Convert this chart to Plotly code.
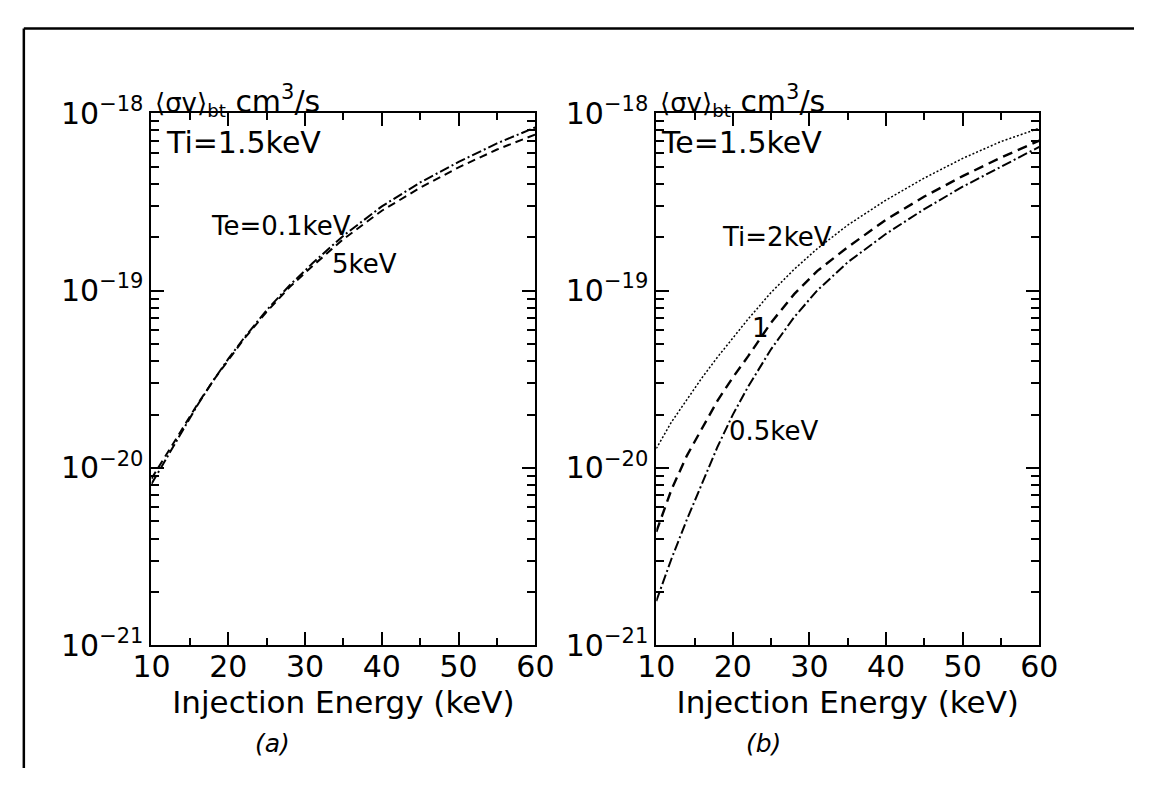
import plotly.graph_objects as go

# ---------------- data ----------------
energy = [10, 12, 14, 16, 18, 20, 22, 25, 28, 31, 35, 40, 45, 50, 55, 60]  # keV

# panel (a): Ti = 1.5 keV
a_te01 = [8.13e-21, 1.148e-20, 1.622e-20, 2.265e-20, 3.09e-20, 4.12e-20, 5.37e-20, 7.76e-20,
          1.072e-19, 1.429e-19, 2.04e-19, 2.985e-19, 4.07e-19, 5.31e-19, 6.76e-19, 8.32e-19]
a_te5 = [8.71e-21, 1.202e-20, 1.66e-20, 2.29e-20, 3.09e-20, 4.07e-20, 5.31e-20, 7.59e-20,
         1.047e-19, 1.38e-19, 1.95e-19, 2.82e-19, 3.80e-19, 4.95e-19, 6.24e-19, 7.59e-19]

# panel (b): Te = 1.5 keV
b_ti2 = [1.288e-20, 1.82e-20, 2.43e-20, 3.24e-20, 4.22e-20, 5.43e-20, 6.92e-20, 9.77e-20,
         1.318e-19, 1.72e-19, 2.34e-19, 3.24e-19, 4.31e-19, 5.56e-19, 6.92e-19, 8.22e-19]
b_ti1 = [4.37e-21, 7.59e-21, 1.175e-20, 1.68e-20, 2.40e-20, 3.24e-20, 4.27e-20, 6.61e-20,
         9.55e-20, 1.288e-19, 1.758e-19, 2.51e-19, 3.39e-19, 4.42e-19, 5.62e-19, 7.0e-19]
b_ti05 = [1.778e-21, 3.09e-21, 5.13e-21, 8.32e-21, 1.318e-20, 2.0e-20, 2.88e-20, 4.68e-20,
          7.08e-20, 1.0e-19, 1.445e-19, 2.09e-19, 2.88e-19, 3.85e-19, 5.01e-19, 6.46e-19]

x_ticks = [10, 20, 30, 40, 50, 60]
x_minor = [15, 25, 35, 45, 55]
y_ticks = [1e-21, 1e-20, 1e-19, 1e-18]
y_ticktext = ["10<sup>\u221221</sup>", "10<sup>\u221220</sup>", "10<sup>\u221219</sup>", "10<sup>\u221218</sup>"]
y_minor = [k * 10.0 ** e for e in (-21, -20, -19) for k in range(2, 10)]

# ---------------- figure ----------------
W, H = 1153, 786
FONT = "DejaVu Sans"

def px_x(p):
    return p / W

def px_y(p):
    return 1 - p / H

dom_a = [px_x(137), px_x(534)]
dom_b = [px_x(659), px_x(1055)]
dom_y = [px_y(657), px_y(97)]

fig = go.Figure()

fig.add_trace(go.Scatter(x=energy, y=a_te01, mode="lines", xaxis="x", yaxis="y",
                         line=dict(color="black", width=2, dash="10px,3px,2px,3px")))
fig.add_trace(go.Scatter(x=energy, y=a_te5, mode="lines", xaxis="x", yaxis="y",
                         line=dict(color="black", width=2, dash="8px,5px")))
fig.add_trace(go.Scatter(x=energy, y=b_ti2, mode="lines", xaxis="x2", yaxis="y2",
                         line=dict(color="black", width=1.5, dash="2px,2px")))
fig.add_trace(go.Scatter(x=energy, y=b_ti1, mode="lines", xaxis="x2", yaxis="y2",
                         line=dict(color="black", width=2.4, dash="10px,6px")))
fig.add_trace(go.Scatter(x=energy, y=b_ti05, mode="lines", xaxis="x2", yaxis="y2",
                         line=dict(color="black", width=2, dash="10px,3px,2px,3px")))


def xaxis(domain, anchor):
    return dict(domain=domain, anchor=anchor, range=[10, 60], showline=True, linewidth=2,
                linecolor="black", mirror="ticks", ticks="inside", ticklen=13, tickwidth=2,
                tickcolor="black", tickmode="array", tickvals=x_ticks,
                ticktext=[str(v) for v in x_ticks], showgrid=False, zeroline=False,
                ticklabelstandoff=-6,
                tickfont=dict(size=30, color="black", family=FONT),
                minor=dict(ticks="inside", ticklen=7, tickwidth=2, tickcolor="black",
                           tickmode="array", tickvals=x_minor, showgrid=False),
                title=dict(text="Injection Energy (keV)", standoff=1,
                           font=dict(size=31, color="black", family=FONT)))


def yaxis(domain, anchor):
    return dict(domain=domain, anchor=anchor, type="log", range=[-21, -18], showline=True,
                linewidth=2, linecolor="black", mirror="ticks", ticks="inside", ticklen=13,
                tickwidth=2, tickcolor="black", tickmode="array", tickvals=y_ticks,
                ticktext=y_ticktext, showgrid=False, zeroline=False,
                tickfont=dict(size=30, color="black", family=FONT),
                minor=dict(ticks="inside", ticklen=8, tickwidth=2, tickcolor="black",
                           tickmode="array", tickvals=y_minor, showgrid=False))


fig.update_layout(
    width=W, height=H, autosize=False,
    margin=dict(l=0, r=0, t=0, b=0),
    paper_bgcolor="white", plot_bgcolor="white",
    showlegend=False,
    font=dict(family=FONT, color="black"),
    xaxis=xaxis(dom_a, "y"), yaxis=yaxis(dom_y, "x"),
    xaxis2=xaxis(dom_b, "y2"), yaxis2=yaxis(dom_y, "x2"),
)

ylab = ("<span style='font-size:26px'>\u27e8\u03c3v\u27e9<sub>bt</sub></span>"
        " cm<sup>3</sup>/s")
anns = [
    dict(text=ylab, xref="x domain", yref="y domain", x=0, y=1, xanchor="left",
         yanchor="bottom", xshift=2, yshift=-10, font=dict(size=30)),
    dict(text=ylab, xref="x2 domain", yref="y2 domain", x=0, y=1, xanchor="left",
         yanchor="bottom", xshift=2, yshift=-10, font=dict(size=30)),
    dict(text="Ti=1.5keV", xref="x", yref="y", x=11.6, y=-18.166, xanchor="left",
         yanchor="middle", font=dict(size=30)),
    dict(text="Te=0.1keV", xref="x", yref="y", x=17.5, y=-18.637, xanchor="left",
         yanchor="middle", font=dict(size=26)),
    dict(text="5keV", xref="x", yref="y", x=33.2, y=-18.852, xanchor="left",
         yanchor="middle", font=dict(size=26)),
    dict(text="Te=1.5keV", xref="x2", yref="y2", x=10.3, y=-18.166, xanchor="left",
         yanchor="middle", font=dict(size=30)),
    dict(text="Ti=2keV", xref="x2", yref="y2", x=18.3, y=-18.70, xanchor="left",
         yanchor="middle", font=dict(size=26)),
    dict(text="1", xref="x2", yref="y2", x=22.3, y=-19.21, xanchor="left",
         yanchor="middle", font=dict(size=26)),
    dict(text="0.5keV", xref="x2", yref="y2", x=19.2, y=-19.794, xanchor="left",
         yanchor="middle", font=dict(size=26)),
    dict(text="<i>(a)</i>", xref="paper", yref="paper", x=px_x(262), y=px_y(760),
         xanchor="center", yanchor="middle", font=dict(size=25)),
    dict(text="<i>(b)</i>", xref="paper", yref="paper", x=px_x(770), y=px_y(760),
         xanchor="center", yanchor="middle", font=dict(size=25)),
]
for a in anns:
    a.setdefault("showarrow", False)
    a["font"].setdefault("color", "black")
    a["font"].setdefault("family", FONT)
fig.update_layout(annotations=anns)

# outer frame lines (top and left)
fig.add_shape(type="line", xref="paper", yref="paper", x0=px_x(5), x1=1, y0=px_y(8), y1=px_y(8),
              line=dict(color="black", width=2.5))
fig.add_shape(type="line", xref="paper", yref="paper", x0=px_x(5), x1=px_x(5), y0=px_y(8), y1=0,
              line=dict(color="black", width=2.5))

fig.write_html("out.html")
